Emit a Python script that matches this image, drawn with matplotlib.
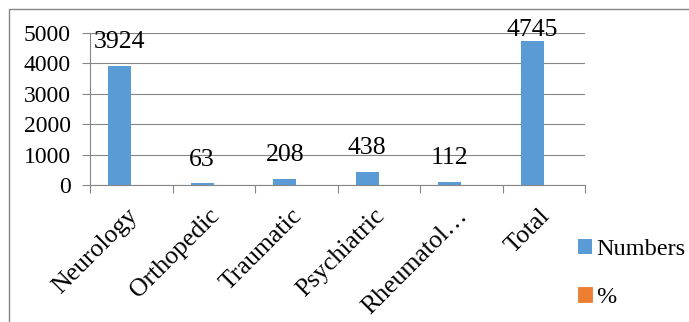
import numpy as np
import matplotlib.pyplot as plt
import matplotlib.transforms as mtransforms
from matplotlib.patches import Rectangle

plt.rcParams['font.family'] = 'Liberation Serif'

categories = ['Neurology', 'Orthopedic', 'Traumatic', 'Psychiatric', 'Rheumatol…', 'Total']
numbers = [3924, 63, 208, 438, 112, 4745]
percent = [0.827, 0.013, 0.044, 0.092, 0.024, 1.0]

blue = '#5b9bd5'
orange = '#ed7d31'
grey = '#868686'

fig = plt.figure(figsize=(6.89, 3.22), dpi=100)
ax = fig.add_axes([90/689, 1 - 185/322, 495/689, 152/322])

x = np.arange(len(categories))
w = 0.28
ax.bar(x - w/2, numbers, w, color=blue, label='Numbers', zorder=3)
ax.bar(x + w/2, percent, w, color=orange, edgecolor='#e8b89a', linewidth=0.6,
       label='%', zorder=3)

ymax = 5000
for xi, v in zip(x, numbers):
    # labels that would leave the chart area are pushed down onto the bar, as Excel does
    off = 9 if v < 0.85 * ymax else 0
    ax.annotate(str(v), (xi - w/2, v), xytext=(0, off), textcoords='offset points',
                ha='center', va='bottom', fontsize=18.5, zorder=4)

ax.set_xlim(-0.5, len(categories) - 0.5)
ax.set_ylim(0, ymax)
ax.set_yticks(range(0, ymax + 1, 1000))
ax.tick_params(axis='y', labelsize=17, length=6, color=grey, width=0.8, pad=8)
ax.grid(axis='y', color=grey, linewidth=0.8, zorder=0)

ax.set_xticks(x)
ax.set_xticklabels(categories, rotation=45, ha='right', rotation_mode='anchor', fontsize=18.5)
ax.tick_params(axis='x', length=0, pad=14)
shift = mtransforms.ScaledTranslation(-5/100, 0, fig.dpi_scale_trans)
for lab in ax.get_xticklabels():
    lab.set_transform(lab.get_transform() + shift)
ax.set_xticks(np.arange(-0.5, len(categories)), minor=True)
ax.tick_params(axis='x', which='minor', length=6, color=grey, width=0.8)

for s in ['top', 'right']:
    ax.spines[s].set_visible(False)
ax.spines['left'].set_color(grey)
ax.spines['bottom'].set_color(grey)
ax.spines['left'].set_linewidth(0.8)
ax.spines['bottom'].set_linewidth(0.8)

leg = fig.legend(loc='upper left', bbox_to_anchor=(568/689, 1 - 229/322), frameon=False,
                 fontsize=17.5, handlelength=0.6, handleheight=0.6, handletextpad=0.15,
                 labelspacing=1.1, borderaxespad=0)
leg.legend_handles[1].set_edgecolor(orange)

fig.patches.append(Rectangle((9/689, -0.1), 1.0, 1.1 - 9/322, transform=fig.transFigure,
                             fill=False, edgecolor=grey, linewidth=1.0))

fig.savefig('out.png', dpi=100)
